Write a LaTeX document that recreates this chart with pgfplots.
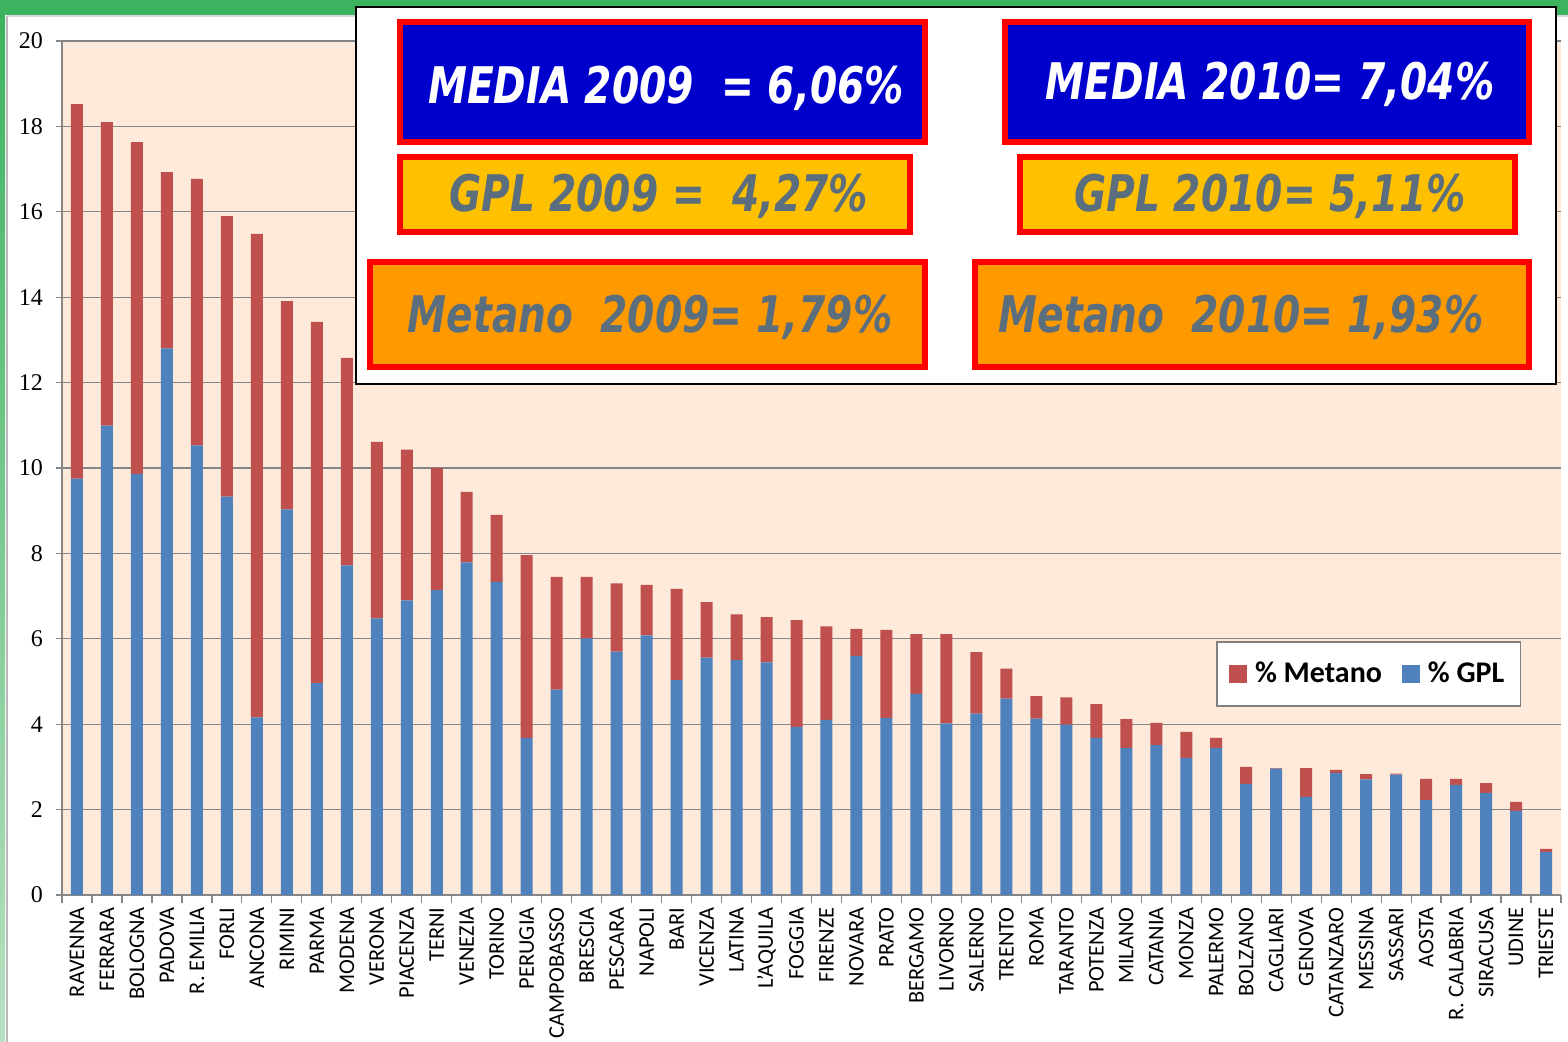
\documentclass[border=0pt]{standalone}
\usepackage{fontspec}
\setmainfont{Carlito}
\newfontfamily\numfont{Liberation Serif}
\newfontfamily\boxfont{DejaVu Sans}
\usepackage{graphicx}
\usepackage{pgfplots}
\usepackage{pgfplotstable}
\pgfplotsset{compat=1.18}

\definecolor{gplblue}{HTML}{4F81BD}
\definecolor{metred}{HTML}{C0504D}
\definecolor{peach}{HTML}{FDEADA}
\definecolor{gridgray}{HTML}{868686}
\definecolor{frgreen}{HTML}{3CB35E}
\definecolor{lightgreen}{HTML}{B8E0C2}
\definecolor{boxblue}{HTML}{0000CC}
\definecolor{boxyellow}{HTML}{FFC000}
\definecolor{boxorange}{HTML}{FF9900}
\definecolor{boxtext}{HTML}{5B6E7D}

\pgfplotsset{sqleg/.style={legend image code/.code={\fill[##1] (0pt,-4.5pt) rectangle (9pt,4.5pt);}}}

\newcommand\boxtxt[1]{\scalebox{0.8}[1.03]{\boxfont\bfseries\itshape\fontsize{24.5}{28}\selectfont #1}}

% % GPL and % Metano per city (stacked: GPL at the bottom)
\pgfplotstableread{
idx gpl metano
0  9.75 8.77
1  10.99 7.11
2  9.86 7.77
3  12.80 4.13
4  10.53 6.24
5  9.33 6.57
6  4.16 11.32
7  9.03 4.88
8  4.96 8.46
9  7.72 4.86
10 6.48 4.13
11 6.90 3.53
12 7.14 2.86
13 7.79 1.65
14 7.33 1.57
15 3.68 4.28
16 4.81 2.64
17 6.01 1.44
18 5.70 1.60
19 6.08 1.18
20 5.03 2.14
21 5.56 1.30
22 5.50 1.07
23 5.45 1.06
24 3.94 2.50
25 4.10 2.19
26 5.60 0.63
27 4.14 2.07
28 4.71 1.40
29 4.02 2.09
30 4.25 1.44
31 4.60 0.70
32 4.13 0.53
33 3.99 0.64
34 3.68 0.79
35 3.44 0.68
36 3.51 0.52
37 3.21 0.61
38 3.44 0.24
39 2.60 0.40
40 2.96 0.01
41 2.30 0.67
42 2.86 0.07
43 2.71 0.12
44 2.82 0.02
45 2.22 0.50
46 2.58 0.14
47 2.39 0.23
48 1.97 0.21
49 1.01 0.07
}\citydata

\begin{document}
\begin{tikzpicture}
\useasboundingbox (0,0) rectangle (784pt,521pt);
\fill[white] (0,0) rectangle (784pt,521pt);

% frame (pixel coordinates, origin top left)
\begin{scope}[x=0.5pt,y=-0.5pt,yshift=521pt]
  \fill[frgreen] (0,0) rectangle (1568,15);
  \shade[top color=frgreen, bottom color=lightgreen] (0,15) rectangle (5,1042);
  \draw[gray!55, line width=1pt] (7,16) -- (7,1042);
  \draw[gray!30, line width=0.6pt] (7,16) -- (1568,16);
\end{scope}

\begin{axis}[
  at={(31pt,73.5pt)}, anchor=south west,
  scale only axis,
  width=749.5pt, height=427pt,
  ybar stacked,
  bar width=6pt,
  xmin=-0.5, xmax=49.5,
  ymin=0, ymax=20,
  xtick={0,...,49},
  xticklabels={RAVENNA,FERRARA,BOLOGNA,PADOVA,R. EMILIA,FORLI,ANCONA,RIMINI,PARMA,MODENA,
    VERONA,PIACENZA,TERNI,VENEZIA,TORINO,PERUGIA,CAMPOBASSO,BRESCIA,PESCARA,NAPOLI,
    BARI,VICENZA,LATINA,L'AQUILA,FOGGIA,FIRENZE,NOVARA,PRATO,BERGAMO,LIVORNO,
    SALERNO,TRENTO,ROMA,TARANTO,POTENZA,MILANO,CATANIA,MONZA,PALERMO,BOLZANO,
    CAGLIARI,GENOVA,CATANZARO,MESSINA,SASSARI,AOSTA,R. CALABRIA,SIRACUSA,UDINE,TRIESTE},
  xticklabel style={yshift=-3pt, rotate=90, anchor=east, inner sep=0pt,
    font=\fontsize{11.2}{13}\selectfont},
  major x tick style={draw=none},
  minor xtick={-0.5,0.5,...,49.5},
  ytick={0,2,...,20},
  yticklabel style={font=\numfont\fontsize{12}{14}\selectfont, xshift=-3pt},
  /pgf/number format/assume math mode=true,
  tick align=outside,
  major tick length=3pt, minor tick length=4pt,
  tick style={gridgray, line width=0.6pt},
  axis x line*=bottom, axis y line*=left,
  axis line style={gridgray, line width=0.6pt},
  ymajorgrids,
  grid style={gridgray, line width=0.6pt},
  axis background/.style={fill=peach},
  reverse legend,
  legend columns=2,
  legend style={at={(0.770,0.297)}, anchor=north west,
    draw=gray, line width=0.8pt, fill=white,
    inner xsep=6pt, inner ysep=8pt,
    font=\bfseries\fontsize{15}{17}\selectfont,
    /tikz/every odd column/.append style={column sep=2pt},
    /tikz/every even column/.append style={column sep=8pt}},
  legend cell align=left,
]
\addplot[fill=gplblue, draw=none, sqleg] table[x=idx, y=gpl]{\citydata};
\addplot[fill=metred, draw=none, sqleg] table[x=idx, y=metano]{\citydata};
\legend{\% GPL, \% Metano}
\end{axis}

% overlay with the averages (pixel coordinates, origin top left)
\begin{scope}[x=0.5pt,y=-0.5pt,yshift=521pt]
  \draw[black, line width=1pt, fill=white] (356,7) rectangle (1556,384);
  \draw[red, line width=3pt, fill=boxblue] (400,22) rectangle (925,142);
  \draw[red, line width=3pt, fill=boxblue] (1005,22) rectangle (1529,142);
  \draw[red, line width=3pt, fill=boxyellow] (400,157) rectangle (910,232);
  \draw[red, line width=3pt, fill=boxyellow] (1020,157) rectangle (1515,232);
  \draw[red, line width=3pt, fill=boxorange] (370,262) rectangle (925,367);
  \draw[red, line width=3pt, fill=boxorange] (975,262) rectangle (1529,367);
  \node[white] at (666,88) {\boxtxt{MEDIA 2009\ \ = 6,06\%}};
  \node[white] at (1270,84) {\boxtxt{MEDIA 2010= 7,04\%}};
  \node[boxtext] at (659,196) {\boxtxt{GPL 2009 =\ \ 4,27\%}};
  \node[boxtext] at (1270,196) {\boxtxt{GPL 2010= 5,11\%}};
  \node[boxtext] at (650,317) {\boxtxt{Metano\ \ 2009= 1,79\%}};
  \node[boxtext] at (1241,317) {\boxtxt{Metano\ \ 2010= 1,93\%}};
\end{scope}
\end{tikzpicture}
\end{document}
